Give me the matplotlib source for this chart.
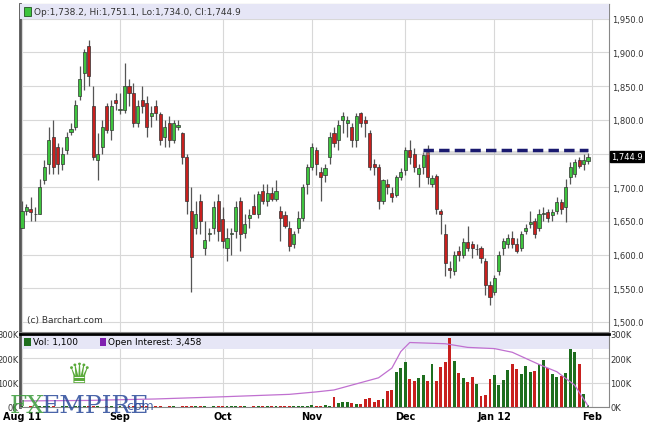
import numpy as np
import matplotlib.pyplot as plt
from matplotlib.patches import Rectangle

# daily OHLC, Aug 11 2011 .. Feb 1 2012
candles = [
    # Aug
    (1640, 1680, 1640, 1665), (1665, 1675, 1658, 1670), (1668, 1685, 1650, 1663),
    (1660, 1670, 1650, 1660), (1660, 1712, 1660, 1700), (1710, 1740, 1705, 1730),
    (1735, 1790, 1720, 1770), (1775, 1800, 1720, 1730), (1760, 1765, 1720, 1735),
    (1735, 1760, 1725, 1750), (1755, 1782, 1750, 1775), (1782, 1795, 1778, 1786),
    (1790, 1830, 1785, 1822), (1835, 1880, 1830, 1860), (1870, 1905, 1845, 1900),
    (1910, 1918, 1850, 1865), (1820, 1850, 1740, 1745), (1740, 1780, 1710, 1750),
    (1760, 1800, 1750, 1790), (1820, 1825, 1780, 1785), (1785, 1830, 1770, 1820),
    (1830, 1840, 1815, 1825),
    # Sep
    (1815, 1840, 1808, 1816), (1815, 1885, 1810, 1850), (1850, 1860, 1820, 1840),
    (1840, 1855, 1790, 1795), (1795, 1830, 1790, 1820), (1830, 1850, 1810, 1820),
    (1825, 1835, 1775, 1790), (1805, 1820, 1790, 1810), (1820, 1830, 1800, 1810),
    (1808, 1812, 1762, 1770), (1775, 1800, 1760, 1790), (1795, 1805, 1760, 1770),
    (1770, 1800, 1765, 1795), (1790, 1800, 1785, 1792), (1780, 1782, 1735, 1745),
    (1745, 1750, 1660, 1680), (1665, 1700, 1545, 1596), (1640, 1680, 1630, 1660),
    (1680, 1690, 1630, 1650), (1610, 1650, 1600, 1622), (1630, 1640, 1620, 1632),
    (1640, 1680, 1630, 1670), (1680, 1690, 1620, 1635),
    # Oct
    (1653, 1670, 1610, 1620), (1610, 1640, 1590, 1625), (1630, 1640, 1600, 1632),
    (1635, 1680, 1625, 1670), (1680, 1685, 1605, 1630), (1632, 1660, 1625, 1645),
    (1655, 1668, 1640, 1658), (1672, 1690, 1660, 1660), (1660, 1695, 1655, 1690),
    (1695, 1705, 1675, 1680), (1680, 1705, 1672, 1692), (1692, 1700, 1680, 1683),
    (1682, 1710, 1680, 1695), (1665, 1672, 1620, 1655), (1658, 1665, 1640, 1642),
    (1640, 1650, 1605, 1612), (1615, 1635, 1610, 1630), (1640, 1665, 1632, 1655),
    (1655, 1705, 1650, 1700), (1705, 1735, 1690, 1730),
    # Nov
    (1730, 1765, 1725, 1760), (1755, 1760, 1718, 1735), (1722, 1730, 1680, 1715),
    (1718, 1735, 1708, 1728), (1745, 1782, 1735, 1775), (1780, 1790, 1760, 1765),
    (1770, 1800, 1755, 1792), (1800, 1812, 1780, 1805), (1795, 1805, 1775, 1800),
    (1790, 1795, 1760, 1770), (1770, 1810, 1760, 1805), (1810, 1812, 1790, 1795),
    (1800, 1805, 1775, 1795), (1780, 1785, 1725, 1730), (1735, 1742, 1718, 1730),
    (1730, 1735, 1668, 1680), (1680, 1712, 1675, 1710), (1705, 1712, 1690, 1700),
    (1692, 1700, 1678, 1685), (1688, 1718, 1685, 1715), (1715, 1728, 1710, 1722),
    # Dec
    (1725, 1760, 1718, 1755), (1755, 1770, 1735, 1745), (1750, 1758, 1722, 1730),
    (1720, 1735, 1700, 1728), (1730, 1752, 1720, 1748), (1752, 1762, 1705, 1715),
    (1705, 1718, 1700, 1713), (1716, 1720, 1660, 1667), (1665, 1668, 1630, 1660),
    (1630, 1645, 1568, 1588), (1580, 1590, 1565, 1577), (1575, 1605, 1570, 1600),
    (1605, 1612, 1590, 1600), (1600, 1625, 1595, 1618), (1618, 1643, 1605, 1610),
    (1615, 1620, 1595, 1610), (1608, 1615, 1600, 1608), (1610, 1612, 1588, 1595),
    (1590, 1595, 1540, 1555), (1555, 1560, 1525, 1537),
    # Jan
    (1545, 1570, 1540, 1565), (1575, 1605, 1570, 1600), (1610, 1625, 1600, 1620),
    (1615, 1630, 1610, 1625), (1625, 1635, 1610, 1615), (1615, 1625, 1602, 1605),
    (1610, 1635, 1605, 1630), (1635, 1645, 1630, 1640), (1645, 1665, 1640, 1648),
    (1650, 1655, 1625, 1630), (1640, 1668, 1635, 1660), (1660, 1670, 1650, 1662),
    (1663, 1668, 1648, 1655), (1658, 1668, 1650, 1663), (1665, 1685, 1660, 1678),
    (1678, 1682, 1660, 1668), (1670, 1712, 1648, 1700), (1715, 1738, 1705, 1730),
    (1720, 1742, 1715, 1738), (1740, 1745, 1728, 1732), (1735, 1750, 1725, 1740),
    (1738.2, 1751.1, 1734.0, 1744.9),
]
opens = [c[0] for c in candles]
highs = [c[1] for c in candles]
lows = [c[2] for c in candles]
closes = [c[3] for c in candles]

# volume in thousands
volume = [
    3, 2, 3, 2, 3, 3, 4, 3, 2, 3, 3, 2, 3, 4, 3, 3, 4, 3, 2, 3, 3, 2,
    3, 2, 3, 3, 2, 3, 3, 2, 3, 3, 2, 3, 3, 2, 3, 4, 5, 3, 3, 3, 2, 3, 3,
    4, 3, 3, 4, 3, 3, 2, 3, 3, 4, 3, 3, 4, 3, 5, 4, 6, 5, 4, 6,
    7, 5, 6, 8, 6,
    40, 18, 22, 20, 17, 14, 14, 32, 35, 20, 28, 32, 65, 68, 145, 160, 185,
    115, 108, 118, 132, 105, 175, 105, 165, 183, 285, 188, 138, 120, 102, 125,
    95, 45, 48, 115, 132, 92, 113, 152, 175, 155, 135, 167, 145, 148, 178,
    195, 160, 135, 125, 128, 138, 240, 228, 175, 55, 8,
]
# open interest (thousands) read at a few trading-day indices
oi_idx = [0, 15, 30, 45, 60, 66, 70, 75, 80, 83, 85, 87, 95, 100, 106, 110, 116, 120, 124, 127]
oi_val = [25, 27, 33, 42, 52, 62, 70, 95, 120, 160, 228, 265, 260, 245, 240, 225, 175, 145, 90, 5]

month_labels = ["Aug 11", "Sep", "Oct", "Nov", "Dec", "Jan 12", "Feb"]
month_idx = [0, 22, 45, 65, 86, 106, 128]
price_ticks = [1500, 1550, 1600, 1650, 1700, 1750, 1800, 1850, 1900, 1950]
vol_ticks = [0, 100, 200, 300]
resistance = 1755

GREEN = "#3ec43e"
RED = "#c8201e"
VGREEN = "#1e6e1e"
GRID = "#d8d8d8"

n = len(candles)
x = np.arange(n)
W, H = 645, 435
AW = 589
fig = plt.figure(figsize=(W / 100, H / 100), dpi=100)
ax = fig.add_axes([20 / W, (H - 333) / H, AW / W, 328 / H])
vax = fig.add_axes([20 / W, (H - 408) / H, AW / W, 73 / H])

# map so that first candle sits at 22px and last at 588px
step = (588 - 22) / (n - 1)
x0 = -2 / step
x1 = x0 + AW / step
for a in (ax, vax):
    a.set_xlim(x0, x1)
    a.set_xticks(month_idx)
    a.grid(True, color=GRID, lw=0.8)
    a.set_axisbelow(True)
    for s in a.spines.values():
        s.set_color("#888888")
    a.spines["left"].set_linewidth(2)
    a.spines["left"].set_color("#555555")

# candles
for i in range(n):
    up = closes[i] >= opens[i]
    col = GREEN if up else RED
    ax.vlines(x[i], lows[i], highs[i], color="#555555", lw=0.9, zorder=2)
    lo, hi = min(opens[i], closes[i]), max(opens[i], closes[i])
    ax.add_patch(Rectangle((x[i] - 0.35, lo), 0.7, max(hi - lo, 0.8),
                           facecolor=col, edgecolor="#333333", lw=0.5, zorder=3))

ax.set_ylim(1485, 1972)
ax.yaxis.tick_right()
ax.set_yticks(price_ticks)
ax.set_yticklabels([f"{v:,.1f}" for v in price_ticks], fontsize=6, color="#333333")
ax.tick_params(axis="y", length=0, pad=2)
ax.tick_params(axis="x", length=0, labelbottom=False)

# header strip
ax.add_patch(Rectangle((0, 0.955), 1, 0.045, transform=ax.transAxes,
                       facecolor="#e6e6f6", edgecolor="none", zorder=4))
ax.add_patch(Rectangle((0.007, 0.963), 0.011, 0.028, transform=ax.transAxes,
                       facecolor=GREEN, edgecolor="#225522", lw=0.6, zorder=5))
ax.text(0.024, 0.977, "Op:1,738.2, Hi:1,751.1, Lo:1,734.0, Cl:1,744.9", transform=ax.transAxes,
        fontsize=6.5, va="center", color="#333333", zorder=5)
ax.text(0.012, 0.03, "(c) Barchart.com", transform=ax.transAxes, fontsize=6.5, color="#333333")

# resistance line
ax.hlines(resistance - 4, 90, n - 1, color="#aaaaaa", lw=3, alpha=0.4, zorder=5)
ax.hlines(resistance, 90, n - 1, color="#1a1a70", lw=2.5, linestyles=(0, (3, 1.5)), zorder=6)

# last price box
ax.text(1.004, closes[-1], f"{closes[-1]:,.1f}", transform=ax.get_yaxis_transform(),
        fontsize=6, color="white", va="center", ha="left",
        bbox=dict(boxstyle="square,pad=0.12", facecolor="black", edgecolor="black"))

# volume panel
vcols = [VGREEN if closes[i] >= opens[i] else RED for i in range(n)]
vax.bar(x, volume, width=0.65, color=vcols, zorder=3)
vax.plot(oi_idx, oi_val, color="#c070d0", lw=0.9, zorder=4)
vax.set_ylim(0, 300)
vax.set_yticks(vol_ticks)
vax.set_yticklabels([f"{v}K" for v in vol_ticks], fontsize=6, color="#333333")
vax.tick_params(axis="y", length=0, labelright=True, labelleft=True, pad=1)
vax.set_xticklabels(month_labels, fontsize=7, fontweight="bold")
vax.tick_params(axis="x", length=0, pad=3)
vax.spines["top"].set_linewidth(2)
vax.spines["top"].set_color("black")
vax.add_patch(Rectangle((0, 0.8), 1, 0.2, transform=vax.transAxes,
                        facecolor="#e6e6f6", edgecolor="none", zorder=1))
vax.add_patch(Rectangle((0.007, 0.84), 0.011, 0.11, transform=vax.transAxes,
                        facecolor=VGREEN, edgecolor="none", zorder=5))
vax.text(0.022, 0.895, "Vol: 1,100", transform=vax.transAxes, fontsize=6.5, va="center", zorder=5)
vax.add_patch(Rectangle((0.135, 0.84), 0.011, 0.11, transform=vax.transAxes,
                        facecolor="#8020b0", edgecolor="none", zorder=5))
vax.text(0.15, 0.895, "Open Interest: 3,458", transform=vax.transAxes, fontsize=6.5, va="center", zorder=5)

# watermark
fig.text(10 / W, 1 - 413 / H, "FX", fontsize=18, family="DejaVu Serif", color="#3a9a3a", alpha=0.85)
fig.text(42 / W, 1 - 413 / H, "EMPIRE", fontsize=18, family="DejaVu Serif", color="#2a4a9a", alpha=0.85)
fig.text(124 / W, 1 - 410 / H, ".com", fontsize=9, color="#2a4a9a", alpha=0.85)
fig.text(79 / W, 1 - 383 / H, "♛", fontsize=20, color="#5aaa3a", ha="center")

fig.savefig("out.png", dpi=100)
